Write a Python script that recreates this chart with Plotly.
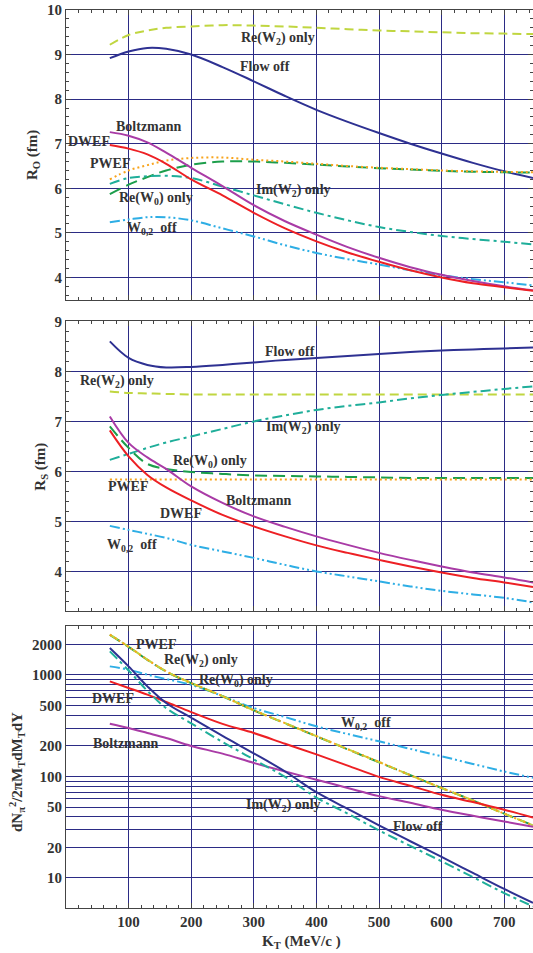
import plotly.graph_objects as go

# ---------------- data ----------------
kt = [70, 100, 130, 160, 200, 250, 300, 350, 400, 450, 500, 550, 600, 650, 700, 746]

# Panel 1: R_O (fm)
ro_flow_off = [8.92, 9.07, 9.15, 9.13, 9.0, 8.72, 8.4, 8.07, 7.76, 7.49, 7.24, 7.0, 6.78, 6.57, 6.38, 6.23]
ro_re_w2 = [9.22, 9.44, 9.54, 9.6, 9.63, 9.66, 9.65, 9.63, 9.6, 9.57, 9.54, 9.52, 9.5, 9.48, 9.47, 9.46]
ro_boltzmann = [7.26, 7.18, 7.03, 6.8, 6.46, 6.05, 5.62, 5.26, 4.96, 4.68, 4.44, 4.23, 4.06, 3.92, 3.8, 3.71]
ro_dwef = [6.97, 6.89, 6.76, 6.55, 6.2, 5.84, 5.45, 5.1, 4.81, 4.56, 4.35, 4.16, 4.0, 3.87, 3.78, 3.7]
ro_pwef = [6.2, 6.4, 6.52, 6.62, 6.68, 6.69, 6.64, 6.6, 6.55, 6.5, 6.46, 6.43, 6.4, 6.38, 6.37, 6.36]
ro_re_w0 = [5.87, 6.08, 6.25, 6.4, 6.53, 6.6, 6.6, 6.57, 6.53, 6.49, 6.45, 6.42, 6.39, 6.37, 6.36, 6.35]
ro_im_w2 = [6.1, 6.23, 6.27, 6.28, 6.23, 6.04, 5.84, 5.64, 5.45, 5.28, 5.13, 5.02, 4.93, 4.86, 4.8, 4.74]
ro_w02_off = [5.24, 5.3, 5.35, 5.35, 5.28, 5.1, 4.92, 4.72, 4.55, 4.41, 4.29, 4.16, 4.05, 3.96, 3.89, 3.82]

# Panel 2: R_S (fm)
rs_flow_off = [8.6, 8.27, 8.13, 8.08, 8.09, 8.13, 8.18, 8.23, 8.27, 8.31, 8.35, 8.39, 8.42, 8.44, 8.46, 8.48]
rs_re_w2 = [7.6, 7.57, 7.56, 7.55, 7.54, 7.54, 7.54, 7.54, 7.54, 7.54, 7.54, 7.54, 7.54, 7.54, 7.54, 7.54]
rs_im_w2 = [6.23, 6.35, 6.47, 6.58, 6.7, 6.85, 7.0, 7.12, 7.23, 7.31, 7.38, 7.46, 7.53, 7.59, 7.65, 7.7]
rs_boltzmann = [7.1, 6.57, 6.28, 6.05, 5.7, 5.37, 5.1, 4.89, 4.7, 4.53, 4.37, 4.23, 4.1, 3.98, 3.88, 3.78]
rs_dwef = [6.82, 6.3, 5.93, 5.68, 5.42, 5.13, 4.9, 4.7, 4.52, 4.37, 4.23, 4.1, 3.98, 3.87, 3.78, 3.69]
rs_re_w0 = [6.9, 6.47, 6.15, 6.05, 5.99, 5.95, 5.92, 5.91, 5.9, 5.89, 5.88, 5.87, 5.87, 5.87, 5.87, 5.87]
rs_pwef = [5.84, 5.84, 5.84, 5.84, 5.84, 5.84, 5.84, 5.84, 5.84, 5.84, 5.84, 5.84, 5.84, 5.84, 5.84, 5.84]
rs_w02_off = [4.91, 4.83, 4.75, 4.67, 4.53, 4.4, 4.27, 4.13, 4.0, 3.9, 3.8, 3.7, 3.61, 3.54, 3.47, 3.38]

# Panel 3: spectra dN/2piMTdMTdY
sp_pwef = [2495, 1900, 1416, 1086, 834, 620, 449, 335, 250, 186, 139, 103, 77, 58, 43, 33]
sp_re_w2 = [2495, 1900, 1416, 1086, 834, 620, 449, 335, 250, 186, 139, 103, 77, 58, 43, 33]
sp_re_w0 = [2480, 1890, 1410, 1080, 830, 618, 448, 334, 249, 185, 138, 103, 77, 58, 43, 33]
sp_w02_off = [1216, 1128, 1007, 912, 800, 620, 473, 385, 312, 262, 222, 187, 158, 133, 112, 97]
sp_dwef = [865, 745, 640, 542, 431, 330, 268, 210, 165, 128, 99, 81, 66, 56, 47, 39.5]
sp_boltzmann = [331, 300, 268, 239, 200, 168, 136, 112, 93, 77, 64, 55, 47, 41, 36, 32]
sp_flow_off = [1845, 1216, 773, 530, 379, 251, 169, 112, 70, 48, 33, 23, 16.1, 11.2, 7.8, 5.7]
sp_im_w2 = [1709, 1109, 697, 472, 334, 219, 147, 99, 62, 43, 29.4, 20.7, 14.6, 10.2, 7.1, 5.25]

kt_ticks = [100, 200, 300, 400, 500, 600, 700]
sp_tickvals = [10, 20, 50, 100, 200, 500, 1000, 2000]
sp_minor_vals = [30, 40, 60, 70, 80, 90, 300, 400, 600, 700, 800, 900]

# ---------------- styles ----------------
C_FLOW = "#2e3192"
C_REW2 = "#c0d640"
C_BOLTZ = "#a93ba6"
C_DWEF = "#ed2024"
C_PWEF = "#f8a41c"
C_REW0 = "#1c9e4b"
C_IMW2 = "#1fae9a"
C_W02 = "#2eaee5"

D_REW2 = "9px,5px"
D_REW0 = "12px,6px"
D_PWEF = "2px,3px"
D_IMW2 = "10px,4px,3px,4px"
D_W02 = "10px,3px,2px,3px,2px,3px"

GRID = "#2b2b85"
FRAME = "#444444"
TXT = "#333333"
FONT = "Liberation Serif"

fig = go.Figure()

def add(y, color, dash, xa, ya):
    fig.add_trace(go.Scatter(x=kt, y=y, mode="lines", xaxis=xa, yaxis=ya,
                             line=dict(color=color, width=2, dash=dash, shape="spline"),
                             hoverinfo="skip"))

# panel 1
for y, c, d in [(ro_re_w2, C_REW2, D_REW2), (ro_flow_off, C_FLOW, "solid"),
                (ro_re_w0, C_REW0, D_REW0), (ro_pwef, C_PWEF, D_PWEF),
                (ro_im_w2, C_IMW2, D_IMW2), (ro_w02_off, C_W02, D_W02),
                (ro_boltzmann, C_BOLTZ, "solid"), (ro_dwef, C_DWEF, "solid")]:
    add(y, c, d, "x", "y")

# panel 2
for y, c, d in [(rs_flow_off, C_FLOW, "solid"), (rs_re_w2, C_REW2, D_REW2),
                (rs_im_w2, C_IMW2, D_IMW2), (rs_re_w0, C_REW0, D_REW0),
                (rs_pwef, C_PWEF, D_PWEF), (rs_w02_off, C_W02, D_W02),
                (rs_boltzmann, C_BOLTZ, "solid"), (rs_dwef, C_DWEF, "solid")]:
    add(y, c, d, "x2", "y2")

# panel 3
for y, c, d in [(sp_w02_off, C_W02, D_W02), (sp_re_w0, C_REW0, D_REW0),
                (sp_re_w2, C_REW2, D_REW2), (sp_pwef, C_PWEF, D_PWEF),
                (sp_dwef, C_DWEF, "solid"), (sp_boltzmann, C_BOLTZ, "solid"),
                (sp_im_w2, C_IMW2, D_IMW2), (sp_flow_off, C_FLOW, "solid")]:
    add(y, c, d, "x3", "y3")

tickfont = dict(family=FONT, size=15, color=TXT, weight="bold")

def xaxis(domain_anchor, show_labels):
    return dict(range=[0, 746], tickvals=kt_ticks, showgrid=True, gridcolor=GRID,
                gridwidth=1, zeroline=False, showline=True, linecolor=FRAME,
                linewidth=1, mirror="ticks", ticks="inside", ticklen=5,
                tickcolor=FRAME, showticklabels=show_labels, tickfont=tickfont,
                anchor=domain_anchor,
                minor=dict(dtick=20, tick0=0, ticks="inside", ticklen=3,
                           tickcolor=FRAME, showgrid=False))

fig.update_layout(
    width=533, height=953,
    margin=dict(l=66, r=0, t=10, b=45),
    paper_bgcolor="white", plot_bgcolor="white",
    showlegend=False,
    xaxis=xaxis("y", False),
    xaxis2=xaxis("y2", False),
    xaxis3=xaxis("y3", True),
    yaxis=dict(domain=[0.6774, 1.0], range=[3.5, 10], dtick=1, showgrid=True,
               gridcolor=GRID, zeroline=False, showline=True, linecolor=FRAME,
               mirror="ticks", ticks="inside", ticklen=5, tickcolor=FRAME,
               tickfont=tickfont, anchor="x",
               minor=dict(dtick=0.2, ticks="inside", ticklen=3, tickcolor=FRAME,
                          showgrid=False)),
    yaxis2=dict(domain=[0.3303, 0.6532], range=[3.2, 9], dtick=1, showgrid=True,
                gridcolor=GRID, zeroline=False, showline=True, linecolor=FRAME,
                mirror="ticks", ticks="inside", ticklen=5, tickcolor=FRAME,
                tickfont=tickfont, anchor="x2",
                minor=dict(dtick=0.2, ticks="inside", ticklen=3, tickcolor=FRAME,
                           showgrid=False)),
    yaxis3=dict(domain=[0.0, 0.3136], type="log", range=[0.704, 3.479],
                tickvals=sp_tickvals, ticktext=[str(v) for v in sp_tickvals],
                showgrid=True, gridcolor=GRID, zeroline=False, showline=True,
                linecolor=FRAME, mirror=True, ticks="", tickfont=tickfont,
                anchor="x3",
                minor=dict(tickvals=sp_minor_vals, showgrid=True, gridcolor=GRID,
                           ticks="")),
)

lab_font = dict(family=FONT, size=14, color=TXT, weight="bold")
title_font = dict(family=FONT, size=15, color=TXT, weight="bold")
annots = []

def lab(text, x, y, xr, yr):
    annots.append(dict(text=text, x=x, y=y, xref=xr, yref=yr, showarrow=False,
                       font=lab_font, xanchor="center", yanchor="middle"))

# panel 1 labels
lab("Re(W<sub>2</sub>) only", 338, 9.36, "x", "y")
lab("Flow off", 318, 8.74, "x", "y")
lab("Boltzmann", 132, 7.39, "x", "y")
lab("DWEF", 37, 7.05, "x", "y")
lab("PWEF", 71, 6.55, "x", "y")
lab("Re(W<sub>0</sub>) only", 143, 5.76, "x", "y")
lab("Im(W<sub>2</sub>) only", 363, 5.95, "x", "y")
lab("W<sub>0,2</sub>  off", 138, 5.09, "x", "y")

# panel 2 labels
lab("Flow off", 358, 8.4, "x2", "y2")
lab("Re(W<sub>2</sub>) only", 82, 7.8, "x2", "y2")
lab("Im(W<sub>2</sub>) only", 379, 6.87, "x2", "y2")
lab("Re(W<sub>0</sub>) only", 230, 6.19, "x2", "y2")
lab("PWEF", 99, 5.69, "x2", "y2")
lab("Boltzmann", 309, 5.42, "x2", "y2")
lab("DWEF", 184, 5.15, "x2", "y2")
lab("W<sub>0,2</sub>  off", 106, 4.52, "x2", "y2")

# panel 3 labels (log axis -> log10 positions)
lab("PWEF", 144, 3.298, "x3", "y3")
lab("Re(W<sub>2</sub>) only", 215, 3.144, "x3", "y3")
lab("Re(W<sub>0</sub>) only", 271, 2.944, "x3", "y3")
lab("DWEF", 75, 2.766, "x3", "y3")
lab("Boltzmann", 96, 2.323, "x3", "y3")
lab("W<sub>0,2</sub>  off", 480, 2.52, "x3", "y3")
lab("Im(W<sub>2</sub>) only", 347, 1.715, "x3", "y3")
lab("Flow off", 563, 1.508, "x3", "y3")

# axis titles
annots.append(dict(text="R<sub>O</sub> (fm)", xref="paper", yref="paper",
                   x=(33 - 66) / 467, y=(908 - 155) / 898, textangle=-90,
                   showarrow=False, font=title_font, xanchor="center", yanchor="middle"))
annots.append(dict(text="R<sub>S</sub> (fm)", xref="paper", yref="paper",
                   x=(41 - 66) / 467, y=(908 - 466.7) / 898, textangle=-90,
                   showarrow=False, font=title_font, xanchor="center", yanchor="middle"))
annots.append(dict(text="dN<sub>π</sub><sup>2</sup>/2πM<sub>T</sub>dM<sub>T</sub>dY",
                   xref="paper", yref="paper",
                   x=(17 - 66) / 467, y=(908 - 772) / 898, textangle=-90,
                   showarrow=False, font=title_font, xanchor="center", yanchor="middle"))
annots.append(dict(text="K<sub>T</sub> (MeV/c )", xref="paper", yref="paper",
                   x=(301 - 66) / 467, y=-(941.7 - 908) / 898,
                   showarrow=False, font=title_font, xanchor="center", yanchor="middle"))

fig.update_layout(annotations=annots)

fig.write_html("out.html")
